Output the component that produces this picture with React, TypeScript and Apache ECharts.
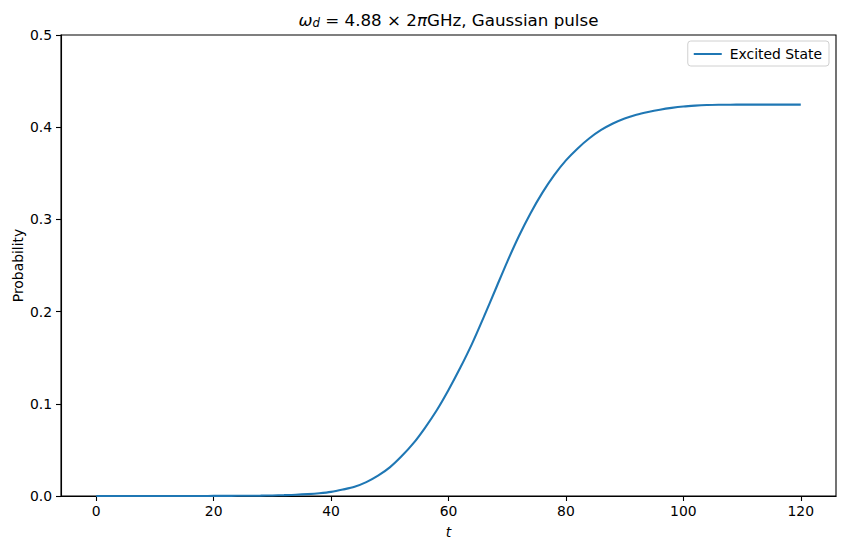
import React, { useEffect, useRef } from "react";
import * as echarts from "echarts";

const timeValues: number[] = [
  0, 2, 4, 6, 8, 10, 12, 14, 16, 18, 20, 22, 24, 26, 28, 30, 32, 34, 36, 38,
  40, 42, 44, 46, 48, 50, 52, 54, 56, 58, 60, 62, 64, 66, 68, 70, 72, 74, 76,
  78, 80, 82, 84, 86, 88, 90, 92, 94, 96, 98, 100, 102, 104, 106, 108, 110,
  112, 114, 116, 118, 120,
];

const excitedState: number[] = [
  0, 0, 0, 0, 0, 0, 0, 0, 0, 0, 0.0001, 0.0001, 0.0002, 0.0003, 0.0004,
  0.0006, 0.0009, 0.0013, 0.002, 0.003, 0.0045, 0.007, 0.01, 0.015, 0.022,
  0.031, 0.043, 0.057, 0.074, 0.093, 0.115, 0.139, 0.165, 0.194, 0.224, 0.254,
  0.282, 0.307, 0.329, 0.348, 0.364, 0.377, 0.388, 0.397, 0.404, 0.4095,
  0.4135, 0.4165, 0.419, 0.421, 0.4225, 0.4234, 0.424, 0.4243, 0.4244, 0.4245,
  0.4245, 0.4245, 0.4245, 0.4245, 0.4245,
];

const xTicks: number[] = [0, 20, 40, 60, 80, 100, 120];
const seriesName = "Excited State";

export default function App() {
  const ref = useRef<HTMLDivElement>(null);

  useEffect(() => {
    document.body.style.margin = "0";
    if (!ref.current) return;
    const chart = echarts.init(ref.current, undefined, { renderer: "svg" });
    const font = "DejaVu Sans";
    const fs = 13.9;
    const data = timeValues.map((t, i) => [t, excitedState[i]]);
    chart.setOption({
      animation: false,
      backgroundColor: "#ffffff",
      textStyle: { fontFamily: font },
      grid: {
        left: 61,
        top: 35,
        width: 775,
        height: 461,
        show: true,
        borderColor: "#000",
        borderWidth: 1.1,
        backgroundColor: "transparent",
        containLabel: false,
        outerBoundsMode: "none",
      },
      graphic: [
        {
          type: "text",
          x: 448.5,
          y: 20,
          style: {
            text: "{it|ω}{sub|d}{n| = 4.88 × 2}{it|π}{n|GHz, Gaussian pulse}",
            align: "center",
            verticalAlign: "middle",
            fill: "#000",
            rich: {
              it: { fontFamily: font, fontStyle: "italic", fontSize: 16.7, fill: "#000" },
              sub: { fontFamily: font, fontStyle: "italic", fontSize: 11.7, fill: "#000", padding: [6, 0, 0, 0] },
              n: { fontFamily: font, fontSize: 16.7, fill: "#000" },
            },
          },
        },
      ],
      legend: {
        show: true,
        right: 17,
        top: 41,
        orient: "vertical",
        icon: "rect",
        itemWidth: 28,
        itemHeight: 2,
        itemGap: 10,
        padding: [6, 7, 5, 6],
        borderColor: "#d0d0d0",
        borderWidth: 1,
        borderRadius: 3,
        backgroundColor: "rgba(255,255,255,0.8)",
        textStyle: { fontFamily: font, fontSize: fs, color: "#000", padding: [0, 0, 0, 3] },
        data: [seriesName],
      },
      xAxis: {
        type: "value",
        min: -6,
        max: 126,
        name: "t",
        nameLocation: "middle",
        nameGap: 29,
        nameMoveOverlap: false,
        nameTextStyle: { fontFamily: font, fontSize: fs, fontStyle: "italic", color: "#000" },
        axisLine: { show: true, onZero: false, lineStyle: { color: "#000", width: 1.1 } },
        axisTick: {
          show: true,
          inside: false,
          length: 5,
          lineStyle: { color: "#000", width: 1.1 },
          customValues: xTicks,
        },
        axisLabel: {
          show: true,
          margin: 8,
          fontFamily: font,
          fontSize: fs,
          color: "#000",
          customValues: xTicks,
          showMinLabel: true,
          showMaxLabel: true,
        },
        splitLine: { show: false },
      },
      yAxis: {
        type: "value",
        min: 0,
        max: 0.5,
        interval: 0.1,
        name: "Probability",
        nameLocation: "middle",
        nameGap: 36,
        nameMoveOverlap: false,
        nameRotate: 90,
        nameTextStyle: { fontFamily: font, fontSize: fs, color: "#000" },
        axisLine: { show: true, onZero: false, lineStyle: { color: "#000", width: 1.1 } },
        axisTick: { show: true, inside: false, length: 5, lineStyle: { color: "#000", width: 1.1 } },
        axisLabel: {
          margin: 9,
          fontFamily: font,
          fontSize: fs,
          color: "#000",
          formatter: (v: number) => v.toFixed(1),
        },
        splitLine: { show: false },
      },
      series: [
        {
          name: seriesName,
          type: "line",
          data,
          showSymbol: false,
          smooth: 0.3,
          lineStyle: { color: "#1f77b4", width: 2.1 },
          itemStyle: { color: "#1f77b4" },
        },
      ],
    });
    return () => chart.dispose();
  }, []);

  return (
    <div
      ref={ref}
      style={{ position: "absolute", left: 0, top: 0, width: 846, height: 549 }}
    />
  );
}
